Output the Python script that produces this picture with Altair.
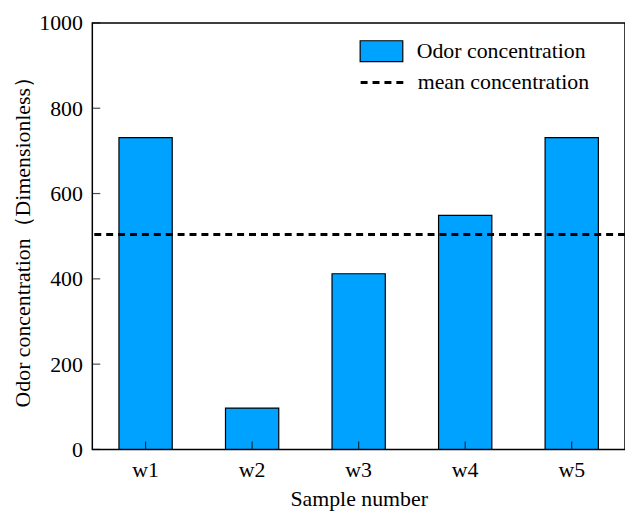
import altair as alt
import pandas as pd

samples = ["w1", "w2", "w3", "w4", "w5"]
odor = [731, 97, 412, 549, 731]
y_ticks = [0, 200, 400, 600, 800, 1000]

df = pd.DataFrame({"sample": samples, "value": odor, "series": ["Odor concentration"] * len(samples)})
ticks_df = pd.DataFrame({"t": y_ticks})

FONT = "Liberation Serif"
FS = 22
W, H = 537, 430
BLUE = "#00A2FF"

xscale = alt.Scale(domain=samples, paddingInner=0.5, paddingOuter=0.25)
yscale = alt.Scale(domain=[0, 1000], nice=False)

bars = alt.Chart(df).mark_bar(stroke="black", strokeWidth=1.2).encode(
    x=alt.X("sample:N", scale=xscale, sort=samples,
            axis=alt.Axis(title="Sample number", labelAngle=0, ticks=False, domain=False,
                          labelPadding=10, titlePadding=8)),
    y=alt.Y("value:Q", scale=yscale,
            axis=alt.Axis(title="Odor concentration（Dimensionless）", values=y_ticks, format="d",
                          ticks=False, domain=False, grid=False, labelPadding=10, titlePadding=4)),
    fill=alt.Fill("series:N", scale=alt.Scale(domain=["Odor concentration"], range=[BLUE]),
                  legend=alt.Legend(title=None, orient="none", legendX=269, legendY=6,
                                    symbolType="M-1,-0.49H1V0.49H-1Z", symbolSize=1849,
                                    symbolStrokeColor="black", symbolStrokeWidth=1.2,
                                    symbolOpacity=1, labelOffset=13, labelFontSize=FS, labelFont=FONT,
                                    labelColor="black", labelLimit=300)),
)

mean_rule = alt.Chart(df).transform_aggregate(
    mean="mean(value)"
).transform_calculate(
    series="'mean concentration'"
).mark_rule(color="black", strokeWidth=3).encode(
    y=alt.Y("mean:Q", scale=yscale),
    strokeDash=alt.StrokeDash("series:N", scale=alt.Scale(domain=["mean concentration"], range=[[7, 5]]),
                              legend=alt.Legend(title=None, orient="none", legendX=269, legendY=37,
                                                symbolType="stroke", symbolSize=1849,
                                                symbolStrokeColor="black", symbolStrokeWidth=3,
                                                labelOffset=13, labelFontSize=FS, labelFont=FONT,
                                                labelColor="black", labelLimit=300)),
)

ytick_marks = alt.Chart(ticks_df).mark_tick(color="black", thickness=1.2, size=8, orient="horizontal").encode(
    y=alt.Y("t:Q", scale=yscale),
    x=alt.value(4),
)

xtick_marks = alt.Chart(df).mark_tick(color="black", thickness=1.2, size=8, orient="vertical").encode(
    x=alt.X("sample:N", scale=xscale, sort=samples),
    y=alt.value(H - 4),
)

chart = alt.layer(bars, mean_rule, ytick_marks, xtick_marks).properties(
    width=W, height=H,
    autosize=alt.AutoSizeParams(type="none"),
    padding={"left": 85, "top": 13, "right": 0, "bottom": 62},
).configure_view(
    stroke="black", strokeWidth=1.5
).configure_axis(
    labelFont=FONT, labelFontSize=FS, labelColor="black",
    titleFont=FONT, titleFontSize=FS, titleColor="black", titleFontWeight="normal",
).configure_legend(
    padding=0, rowPadding=10
)

chart.save("out.html", embed_options={"renderer": "svg", "actions": False})
